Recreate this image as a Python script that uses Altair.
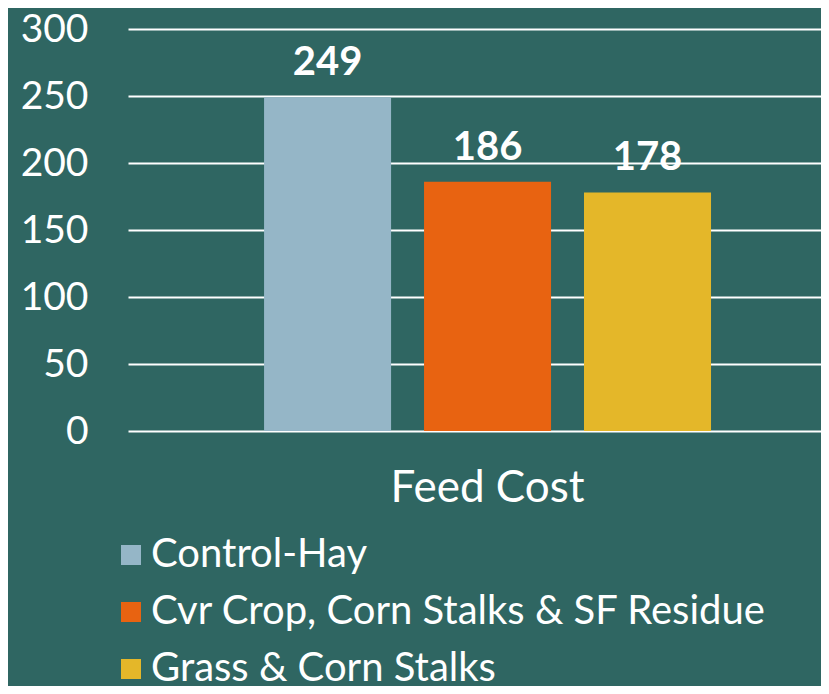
import altair as alt
import pandas as pd

series = ["Control-Hay", "Cvr Crop, Corn Stalks & SF Residue", "Grass & Corn Stalks"]
values = [249, 186, 178]
colors = ["#95B6C7", "#E86311", "#E4B729"]
category = "Feed Cost"
y_ticks = [0, 50, 100, 150, 200, 250, 300]

df = pd.DataFrame({"Series": series, "Value": values})

FONT = "Lato"
BG = "#2F6662"

x_enc = alt.X(
    "Series:N",
    sort=series,
    scale=alt.Scale(paddingInner=0.206, paddingOuter=0.769, align=0.553),
    axis=alt.Axis(
        title=category, labels=False, ticks=False, domain=False, grid=False,
        titleFont=FONT, titleFontSize=44, titleFontWeight="normal", titleColor="white",
        titleX=359, titleY=70, titleAlign="center", titleBaseline="alphabetic",
    ),
)
y_enc = alt.Y(
    "Value:Q",
    scale=alt.Scale(domain=[0, 300], nice=False),
    axis=alt.Axis(
        title=None, values=y_ticks, ticks=False, domain=False, grid=True,
        gridColor="white", gridWidth=2, gridOpacity=1,
        labelFont=FONT, labelFontSize=39, labelColor="white", labelPadding=40,
    ),
)

bars = alt.Chart(df).mark_bar().encode(
    x=x_enc,
    y=y_enc,
    color=alt.Color(
        "Series:N",
        sort=series,
        scale=alt.Scale(domain=series, range=colors),
        legend=alt.Legend(
            title=None, orient="none", legendX=-17, legendY=506,
            direction="vertical", symbolType="square", symbolSize=400,
            symbolStrokeWidth=0, labelFont=FONT, labelFontSize=40,
            labelColor="white", labelOffset=0, rowPadding=17,
            labelLimit=800,
        ),
    ),
)

labels = alt.Chart(df).mark_text(
    font=FONT, fontSize=40, fontWeight="bold", color="white",
    baseline="bottom", dy=-14,
).encode(
    x=alt.X("Series:N", sort=series),
    y=alt.Y("Value:Q"),
    text="Value:Q",
)

chart = (
    alt.layer(bars, labels)
    .properties(
        width=693, height=402,
        autosize=alt.AutoSizeParams(type="none"),
        padding={"left": 120, "top": 21, "right": 0, "bottom": 255},
        background=BG,
    )
    .configure_view(stroke=None)
)

chart.save("out.html", embed_options={"renderer": "svg", "actions": False})
